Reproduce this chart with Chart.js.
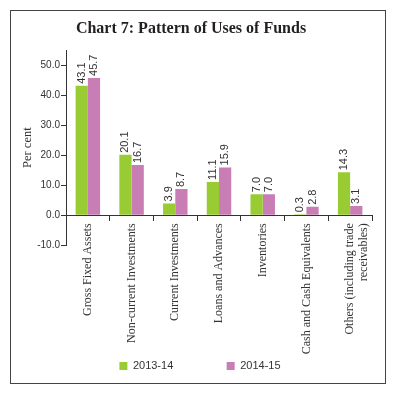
<!DOCTYPE html>
<html>
<head>
<meta charset="utf-8">
<script src="https://cdn.jsdelivr.net/npm/chart.js@4/dist/chart.umd.min.js"></script>
<style>
  html, body { margin: 0; padding: 0; background: #fff; }
  #wrap { position: relative; width: 396px; height: 395px; }
  #frame { position: absolute; left: 10px; top: 10px; width: 376px; height: 374px; box-sizing: border-box; border: 1.5px solid #444; pointer-events: none; }
  canvas { position: absolute; left: 0; top: 0; }
</style>
</head>
<body>
<div id="wrap">
  <canvas id="c" width="396" height="395"></canvas>
  <div id="frame"></div>
</div>
<script>
const categories = [
  'Gross Fixed Assets',
  'Non-current Investments',
  'Current Investments',
  'Loans and Advances',
  'Inventories',
  'Cash and Cash Equivalents',
  ['Others (including trade', 'receivables)']
];
const series2013_14 = [43.1, 20.1, 3.9, 11.1, 7.0, 0.3, 14.3];
const series2014_15 = [45.7, 16.7, 8.7, 15.9, 7.0, 2.8, 3.1];
const seriesNames = ['2013-14', '2014-15'];
const yTickValues = [-10, 0, 10, 20, 30, 40, 50];

const valueLabels = {
  id: 'valueLabels',
  afterDatasetsDraw(chart) {
    const ctx = chart.ctx;
    ctx.save();
    ctx.font = '11px "Liberation Sans", Arial, sans-serif';
    ctx.fillStyle = '#333';
    ctx.textAlign = 'left';
    ctx.textBaseline = 'middle';
    chart.data.datasets.forEach((ds, di) => {
      const meta = chart.getDatasetMeta(di);
      meta.data.forEach((bar, i) => {
        const v = ds.data[i];
        ctx.save();
        ctx.translate(bar.x, bar.y - 2);
        ctx.rotate(-Math.PI / 2);
        ctx.fillText(v.toFixed(1), 0, 0);
        ctx.restore();
      });
    });
    ctx.restore();
  }
};

new Chart(document.getElementById('c'), {
  type: 'bar',
  data: {
    labels: categories,
    datasets: [
      { label: seriesNames[0], data: series2013_14, backgroundColor: '#99cc33', categoryPercentage: 0.56, barPercentage: 1.0 },
      { label: seriesNames[1], data: series2014_15, backgroundColor: '#c97db5', categoryPercentage: 0.56, barPercentage: 1.0 }
    ]
  },
  options: {
    responsive: false,
    animation: false,
    events: [],
    layout: { padding: { left: 10, right: 24, top: 13, bottom: 13.5 } },
    plugins: {
      title: {
        display: true,
        text: 'Chart 7: Pattern of Uses of Funds',
        color: '#231f20',
        font: { family: '"Liberation Serif", "Times New Roman", serif', size: 16, weight: 'bold', lineHeight: 1.2 },
        padding: { top: 6, bottom: 11.8 }
      },
      legend: {
        position: 'bottom',
        align: 'start',
        fullSize: false,
        title: { display: true, text: ' ', font: { size: 10, lineHeight: 6.18 }, padding: 0 },
        labels: {
          boxWidth: 8,
          boxHeight: 8,
          padding: 53.4,
          color: '#333',
          font: { family: '"Liberation Sans", Arial, sans-serif', size: 11 }
        }
      },
      tooltip: { enabled: false }
    },
    scales: {
      x: {
        position: { y: 0 },
        offset: true,
        grid: { display: true, drawOnChartArea: false, drawTicks: true, tickLength: 5, offset: true, color: '#333', lineWidth: 1 },
        border: { display: true, color: '#333', width: 1 },
        ticks: {
          autoSkip: false,
          maxRotation: 90,
          minRotation: 90,
          padding: 3,
          color: '#333',
          font: { family: '"Liberation Serif", "Times New Roman", serif', size: 12, lineHeight: 1.15 }
        }
      },
      y: {
        min: -10,
        max: 55,
        afterBuildTicks(scale) {
          scale.ticks = yTickValues.map(v => ({ value: v }));
        },
        afterFit(scale) { scale.width = 56; },
        grid: { display: true, drawOnChartArea: false, drawTicks: true, tickLength: 5, color: '#333', lineWidth: 1 },
        border: { display: true, color: '#333', width: 1 },
        ticks: {
          padding: 1,
          color: '#333',
          font: { family: '"Liberation Sans", Arial, sans-serif', size: 10 },
          callback: (v) => Number(v).toFixed(1)
        },
        title: {
          display: true,
          text: 'Per cent',
          color: '#333',
          padding: { top: 10.5, bottom: 0 },
          font: { family: '"Liberation Serif", "Times New Roman", serif', size: 12.5, lineHeight: 1.2 }
        }
      }
    }
  },
  plugins: [valueLabels]
});
</script>
</body>
</html>
